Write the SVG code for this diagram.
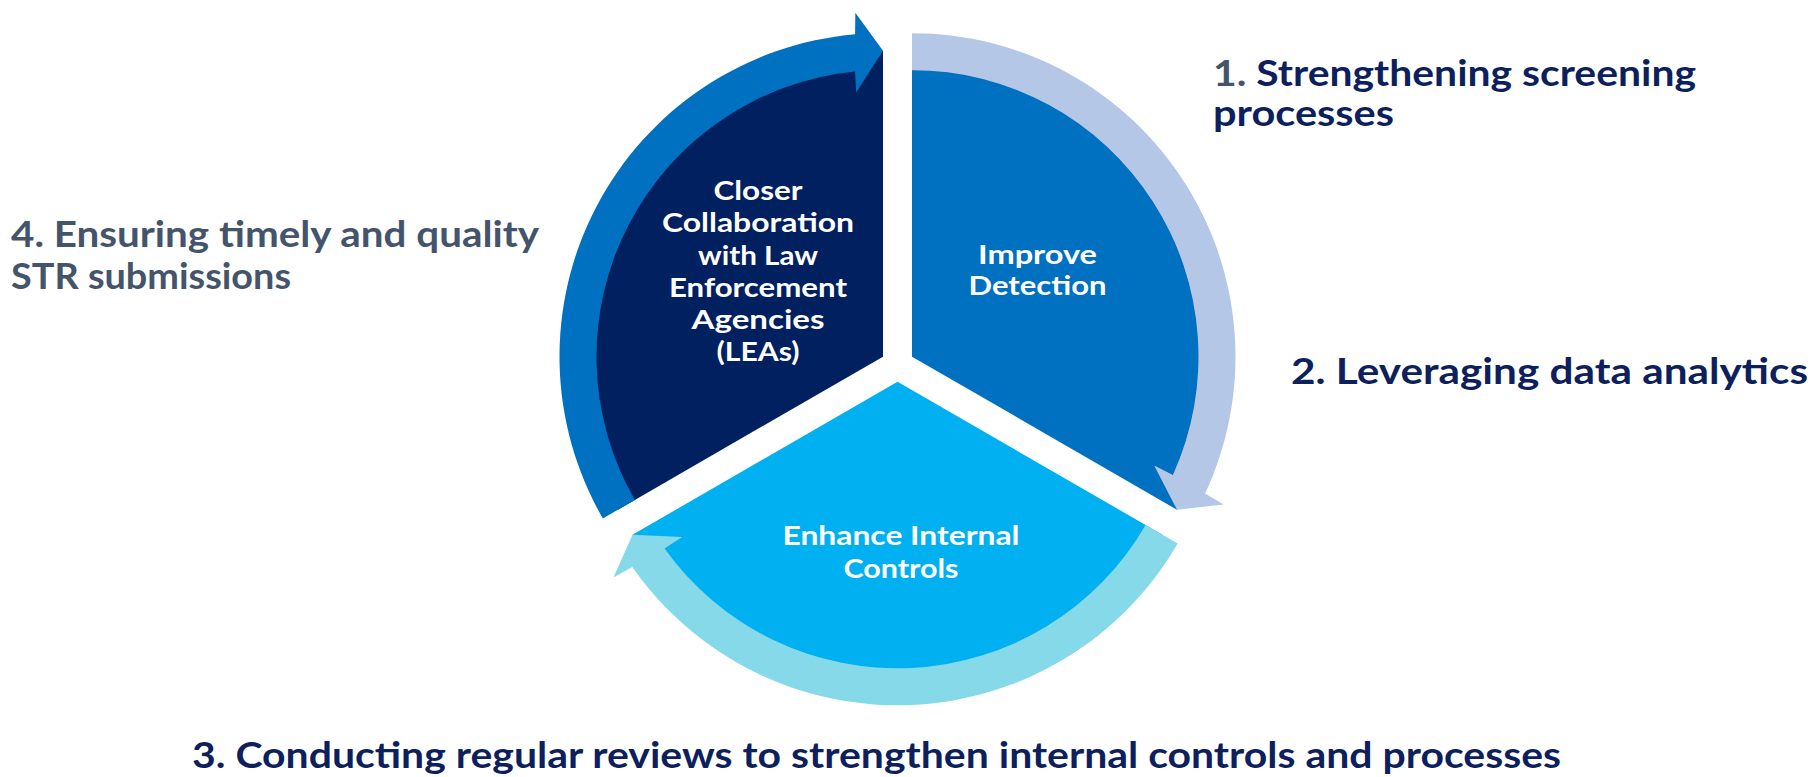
<svg xmlns="http://www.w3.org/2000/svg" width="1813" height="777" viewBox="0 0 1813 777">
  <style>
    .wedge-label { font-family: Lato, "Liberation Sans", sans-serif; font-weight: 700; font-size: 27px; fill: #ffffff; text-anchor: middle; }
    .note { font-family: Lato, "Liberation Sans", sans-serif; font-weight: 700; font-size: 36px; fill: #0d1f5c; }
    .note-grey { fill: #44546a; }
    .arrow-a { fill: #0070c0; }
    .arrow-b { fill: #b4c7e7; }
    .arrow-c { fill: #86d9e8; }
  </style>

  <rect width="1813" height="777" fill="#ffffff"/>

  <!-- pie segments, each pushed out slightly along its bisector -->
  <g id="node-collaboration">
    <path d="M883,356.63 L618,509.63 A306,306 0 0 1 883,50.63 Z" fill="#002060"/>
    <text class="wedge-label" x="758" y="200" textLength="89" lengthAdjust="spacingAndGlyphs">Closer</text>
    <text class="wedge-label" x="758" y="232" textLength="192" lengthAdjust="spacingAndGlyphs">Collaboration</text>
    <text class="wedge-label" x="758" y="265" textLength="120" lengthAdjust="spacingAndGlyphs">with Law</text>
    <text class="wedge-label" x="758" y="297" textLength="178" lengthAdjust="spacingAndGlyphs">Enforcement</text>
    <text class="wedge-label" x="758" y="329" textLength="133" lengthAdjust="spacingAndGlyphs">Agencies</text>
    <text class="wedge-label" x="758" y="361" textLength="83" lengthAdjust="spacingAndGlyphs">(LEAs)</text>
  </g>

  <g id="node-detection">
    <path d="M912,356.63 L912,50.63 A306,306 0 0 1 1177,509.63 Z" fill="#0070c0"/>
    <text class="wedge-label" x="1037.5" y="264" textLength="119" lengthAdjust="spacingAndGlyphs">Improve</text>
    <text class="wedge-label" x="1037.5" y="295" textLength="138" lengthAdjust="spacingAndGlyphs">Detection</text>
  </g>

  <g id="node-controls">
    <path d="M897.5,381.74 L1162.5,534.74 A306,306 0 0 1 632.5,534.74 Z" fill="#00b0f0"/>
    <text class="wedge-label" x="901" y="545" textLength="237" lengthAdjust="spacingAndGlyphs">Enhance Internal</text>
    <text class="wedge-label" x="901" y="578" textLength="115" lengthAdjust="spacingAndGlyphs">Controls</text>
  </g>

  <!-- curved arrows running clockwise round each segment -->
  <g id="connectors">
    <path class="arrow-a" d="M602.84,518.38 A323.5,323.5 0 0 1 855.09,34.34 L855.33,12.74 L883,50.63 L856.17,92.49 L855.04,71.5 A286.5,286.5 0 0 0 634.88,499.88 Z"/>
    <path class="arrow-b" d="M912,33.13 A323.5,323.5 0 0 1 1205.07,493.6 L1223.65,504.61 L1177,509.63 L1154.17,465.46 L1172.91,474.98 A286.5,286.5 0 0 0 912,70.13 Z"/>
    <path class="arrow-c" d="M1177.66,543.49 A323.5,323.5 0 0 1 632.29,566.99 L613.46,577.57 L632.5,534.74 L682.16,537.05 L664.55,548.52 A286.5,286.5 0 0 0 1145.62,524.99 Z"/>
  </g>

  <!-- action notes around the cycle -->
  <g id="note-1">
    <text class="note" x="1213" y="86" textLength="483" lengthAdjust="spacingAndGlyphs"><tspan class="note-grey">1.</tspan> Strengthening screening</text>
    <text class="note" x="1213" y="126" textLength="181" lengthAdjust="spacingAndGlyphs">processes</text>
  </g>
  <g id="note-2">
    <text class="note" x="1291" y="384" textLength="517" lengthAdjust="spacingAndGlyphs">2. Leveraging data analytics</text>
  </g>
  <g id="note-3">
    <text class="note" x="192" y="768" textLength="1369" lengthAdjust="spacingAndGlyphs">3. Conducting regular reviews to strengthen internal controls and processes</text>
  </g>
  <g id="note-4">
    <text class="note note-grey" x="11" y="247" textLength="528" lengthAdjust="spacingAndGlyphs">4. Ensuring timely and quality</text>
    <text class="note note-grey" x="11" y="289" textLength="280" lengthAdjust="spacingAndGlyphs">STR submissions</text>
  </g>
</svg>
